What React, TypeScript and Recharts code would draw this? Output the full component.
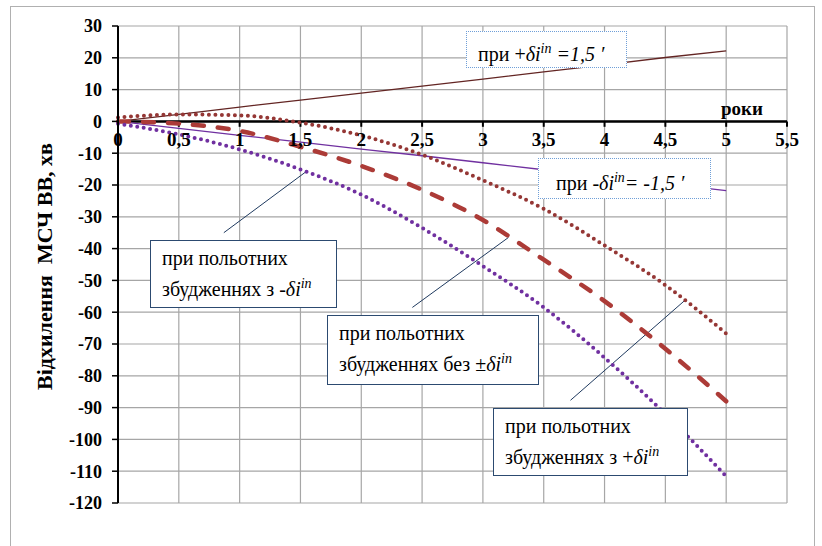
import React from "react";
import {
  CartesianGrid,
  Line,
  LineChart,
  ReferenceDot,
  ReferenceLine,
  XAxis,
  YAxis,
} from "recharts";

// роки
const years = [0, 0.5, 1, 1.5, 2, 2.5, 3, 3.5, 4, 4.5, 5];
// відхилення, хв
const plusShift = [0, 2.2, 4.5, 6.7, 8.9, 11.1, 13.3, 15.6, 17.8, 20.1, 22.2];
const minusShift = [0, -2.2, -4.4, -6.5, -8.7, -10.8, -13, -15.2, -17.4, -19.6, -21.8];
const flightPlus = [1.2, 2.2, 1.9, -0.4, -4.4, -10.5, -18.5, -27.5, -39, -51.5, -66.7];
const flightNone = [0, -0.7, -3, -8, -14, -21.5, -31, -43.5, -56.5, -71.5, -88];
const flightMinus = [-0.7, -4.1, -8.8, -15.1, -23, -33.5, -45.5, -58.5, -74.3, -92, -111.6];

const xTicks = [0, 0.5, 1, 1.5, 2, 2.5, 3, 3.5, 4, 4.5, 5, 5.5];
const yTicks = [-120, -110, -100, -90, -80, -70, -60, -50, -40, -30, -20, -10, 0, 10, 20, 30];

// виноски: від рамки до кривої
const leaders = [
  { from: { x: 0.87, y: -35 }, to: { x: 1.55, y: -15.7 } },
  { from: { x: 2.42, y: -58.5 }, to: { x: 3.21, y: -36.5 } },
  { from: { x: 3.72, y: -87.7 }, to: { x: 4.66, y: -56.3 } },
];

const rows = years.map((x, i) => ({
  x,
  plus: plusShift[i],
  minus: minusShift[i],
  fPlus: flightPlus[i],
  fNone: flightNone[i],
  fMinus: flightMinus[i],
}));

const serif = "Liberation Serif, DejaVu Serif, serif";
const fmt = (v: number) => String(v).replace(".", ",");

const XTickLabel = (props: any) => {
  const { viewBox, value } = props;
  return (
    <text
      x={viewBox.x}
      y={viewBox.y + 25}
      textAnchor="middle"
      style={{ fontFamily: serif, fontWeight: "bold", fontSize: 19 }}
      fill="#000"
    >
      {value}
    </text>
  );
};

const YTitle = (props: any) => {
  const { viewBox } = props;
  const cx = viewBox.x - 14;
  const cy = viewBox.y + viewBox.height / 2 + 2;
  return (
    <text
      x={cx}
      y={cy}
      transform={`rotate(-90 ${cx} ${cy})`}
      textAnchor="middle"
      dominantBaseline="central"
      fill="#000"
      style={{ fontFamily: serif, fontWeight: "bold", fontSize: 22, whiteSpace: "pre" }}
    >
      {"Відхилення  МСЧ ВВ, хв"}
    </text>
  );
};

const Di = () => (
  <i>
    δi<sup style={{ fontSize: "0.7em" }}>in</sup>
  </i>
);

const boxBase: React.CSSProperties = {
  position: "absolute",
  boxSizing: "border-box",
  background: "#fff",
  fontFamily: serif,
  fontSize: 20,
  lineHeight: "26.7px",
  color: "#000",
  whiteSpace: "nowrap",
};

const dottedBox: React.CSSProperties = {
  ...boxBase,
  border: "1px dotted #6f9fd8",
  paddingLeft: 11,
  paddingTop: 4,
};

const solidBox: React.CSSProperties = {
  ...boxBase,
  border: "1.5px solid #2c4a70",
  paddingLeft: 11,
  paddingTop: 3.5,
};

export default function App() {
  return (
    <div style={{ position: "absolute", left: 0, top: 0, width: 822, height: 546, background: "#fff", overflow: "hidden" }}>
      <div
        style={{
          position: "absolute",
          left: 10,
          top: 6,
          width: 805,
          height: 560,
          border: "1px solid #b0b0b0",
          boxSizing: "border-box",
        }}
      />
      <LineChart
        width={822}
        height={546}
        data={rows}
        margin={{ top: 26, right: 35, bottom: 43, left: 58 }}
        style={{ position: "absolute", left: 0, top: 0 }}
      >
        <CartesianGrid stroke="#a6a6a6" strokeWidth={1.2} />
        <XAxis
          dataKey="x"
          type="number"
          domain={[0, 5.5]}
          ticks={xTicks}
          interval={0}
          axisLine={false}
          tickLine={false}
          tick={() => <g />}
          height={0}
        />
        <YAxis
          type="number"
          domain={[-120, 30]}
          ticks={yTicks}
          width={60}
          axisLine={{ stroke: "#000", strokeWidth: 2 }}
          tickLine={{ stroke: "#000", strokeWidth: 1.5 }}
          tickSize={6}
          tickMargin={10}
          tick={{ fill: "#000", fontFamily: serif, fontWeight: "bold", fontSize: 18 }}
          interval={0}
          label={<YTitle />}
        />
        {/* вісь років проходить через нуль */}
        <ReferenceLine y={0} stroke="#000" strokeWidth={2.5} />
        {xTicks.map((t) => (
          <ReferenceLine
            key={`tk${t}`}
            segment={[
              { x: t, y: 0 },
              { x: t, y: -1.7 },
            ]}
            stroke="#000"
            strokeWidth={2}
          />
        ))}
        {xTicks.map((t) => (
          <ReferenceDot
            key={`lb${t}`}
            x={t}
            y={0}
            r={0}
            fill="none"
            stroke="none"
            label={<XTickLabel value={fmt(t)} />}
          />
        ))}
        {leaders.map((l, i) => (
          <ReferenceLine
            key={`ld${i}`}
            segment={[l.from, l.to]}
            stroke="#1f3a5f"
            strokeWidth={1}
          />
        ))}
        <Line
          dataKey="plus"
          type="linear"
          stroke="#632523"
          strokeWidth={1.3}
          dot={false}
          isAnimationActive={false}
        />
        <Line
          dataKey="minus"
          type="linear"
          stroke="#7030a0"
          strokeWidth={1.3}
          dot={false}
          isAnimationActive={false}
        />
        <Line
          dataKey="fPlus"
          type="monotone"
          stroke="#953735"
          strokeWidth={4}
          strokeDasharray="0 6.5"
          strokeLinecap="round"
          dot={false}
          isAnimationActive={false}
        />
        <Line
          dataKey="fNone"
          type="monotone"
          stroke="#ac3b37"
          strokeWidth={4.5}
          strokeDasharray="11 14"
          strokeLinecap="round"
          dot={false}
          isAnimationActive={false}
        />
        <Line
          dataKey="fMinus"
          type="monotone"
          stroke="#7030a0"
          strokeWidth={4}
          strokeDasharray="0 6.5"
          strokeLinecap="round"
          dot={false}
          isAnimationActive={false}
        />
      </LineChart>

      <div
        style={{
          position: "absolute",
          left: 721,
          top: 99,
          fontFamily: serif,
          fontWeight: "bold",
          fontSize: 19,
          lineHeight: "19px",
        }}
      >
        роки
      </div>

      <div style={{ ...dottedBox, left: 466, top: 31, width: 161, height: 37 }}>
        при +<Di /> <i>=1,5 ′</i>
      </div>
      <div style={{ ...dottedBox, left: 538, top: 158, width: 173, height: 41, paddingLeft: 17, paddingTop: 6 }}>
        при -<Di />
        <i>= -1,5 ′</i>
      </div>

      <div style={{ ...solidBox, left: 150, top: 240, width: 187, height: 68 }}>
        при польотних
        <br />
        збудженнях з -<Di />
      </div>
      <div style={{ ...solidBox, left: 327, top: 315, width: 212, height: 70 }}>
        при польотних
        <br />
        збудженнях без ±<Di />
      </div>
      <div style={{ ...solidBox, left: 493, top: 408, width: 195, height: 68 }}>
        при польотних
        <br />
        збудженнях з +<Di />
      </div>
    </div>
  );
}
